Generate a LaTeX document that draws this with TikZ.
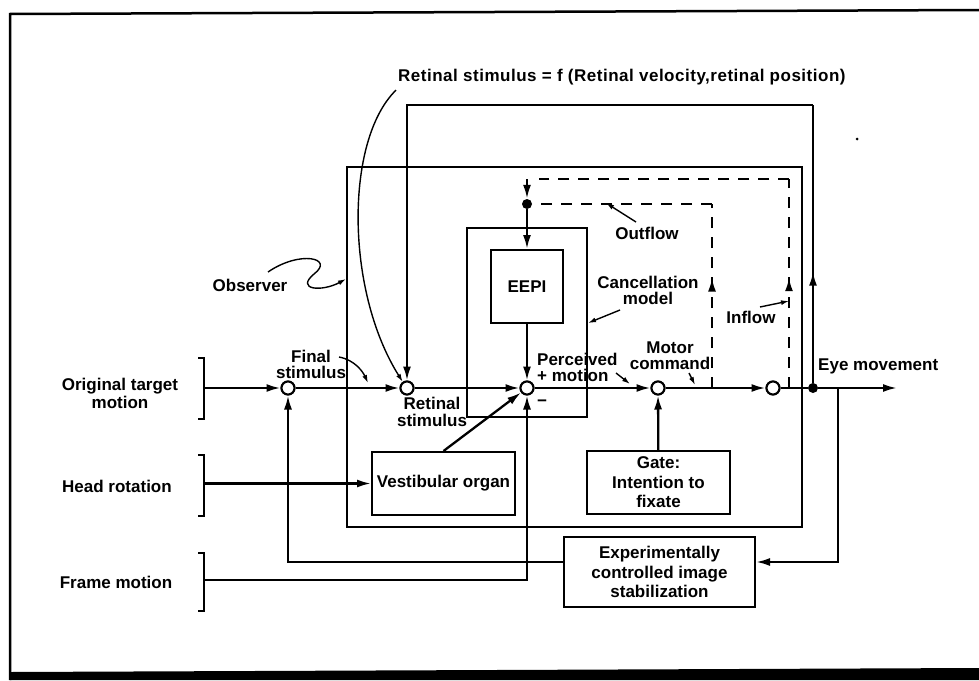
\documentclass[tikz,border=0pt]{standalone}
\usepackage{fontspec}
\setmainfont{Liberation Sans}
\usetikzlibrary{arrows.meta,decorations.markings}
\begin{document}
\begin{tikzpicture}[x=1pt,y=-1pt,
  lab/.style={font=\fontsize{17}{18}\selectfont\bfseries, inner sep=0pt, align=center},
  tight/.style={font=\fontsize{17}{16}\selectfont\bfseries},
  box/.style={draw, line width=2pt, inner sep=0pt, align=center, font=\fontsize{17}{19.5}\selectfont\bfseries},
  sum/.style={circle, draw, fill=white, line width=2pt, minimum size=13pt, inner sep=0pt},
  dotn/.style={circle, fill=black, minimum size=10pt, inner sep=0pt},
  ln/.style={line width=2.3pt},
  arr/.style={ln, -{Latex[length=14pt,width=8pt]}},
  dsh/.style={line width=2.5pt, dash pattern=on 11pt off 9pt},
  ann/.style={line width=1.4pt, -{Latex[length=8pt,width=5pt]}},
  midtip/.style={postaction={decorate}, decoration={markings, mark=at position #1 with {\arrow{Latex[length=14pt,width=8pt]}}}}
]
\useasboundingbox (0,0) rectangle (979,680);
% outer frame
\draw[line width=2.5pt] (10,680) -- (10,14) -- (979,10);
\fill (10,672) -- (979,668) -- (979,680) -- (10,680) -- cycle;
\fill (857,139) circle (1.5);

% boxes
\node[draw, line width=2pt, minimum width=455pt, minimum height=360pt, inner sep=0pt] (obs) at (574.5,347) {};
\node[draw, line width=2pt, minimum width=120pt, minimum height=189pt, inner sep=0pt] (canc) at (527,322.5) {};
\node[box, minimum width=72pt, minimum height=73pt] (eepi) at (527,286.5) {EEPI};
\node[box, minimum width=143pt, minimum height=63pt] (vest) at (443.5,483.5) {Vestibular organ};
\node[box, minimum width=143pt, minimum height=63pt] (gate) at (658.5,482.5) {Gate:\\Intention to\\fixate};
\node[box, minimum width=191pt, minimum height=70pt] (exp) at (659.5,572) {Experimentally\\controlled image\\stabilization};

% brackets
\draw[ln] (198,358) -- (204,358) -- (204,419) -- (198,419);
\draw[ln] (198,455) -- (204,455) -- (204,516) -- (198,516);
\draw[ln] (198,553) -- (204,553) -- (204,611) -- (198,611);
\coordinate (br1) at (204,388);
\coordinate (br2) at (204,483.5);
\coordinate (br3) at (204,580);

% summing points and dots
\node[sum] (c1) at (288,388) {};
\node[sum] (c2) at (407,388) {};
\node[sum] (c3) at (527,388) {};
\node[sum] (c4) at (658,388) {};
\node[sum] (c5) at (773,388) {};
\node[dotn] (d) at (813,388) {};
\node[dotn] (d2) at (527,204) {};
\coordinate (e) at (897,388);
\coordinate (b) at (838,388);
\coordinate (tfb) at (813,105);
\coordinate (tap1) at (712,388);
\coordinate (ti) at (712,204);
\coordinate (tap2) at (789,388);
\coordinate (to1) at (789,179);
\coordinate (to2) at (527,179);

% main line
\draw[arr] (br1) -- (c1);
\draw[arr] (c1) -- (c2);
\draw[arr] (c2) -- (c3);
\draw[arr] (c3) -- (c4);
\draw[arr] (c4) -- (c5);
\draw[ln] (c5) -- (d);
\draw[arr] (d) -- (e);

% inputs
\draw[arr] (br2) -- (vest.west);
\draw[arr] (br3) -| (c3);
\draw[arr] (vest.north) -- (c3);
\draw[arr] (gate) -- (c4);
\draw[arr] (eepi) -- (c3);
\draw[arr] (d2) -- (eepi);

% feedback
\draw[ln, midtip=0.4] (d) -- (tfb);
\draw[arr] (tfb) -| (c2);
\draw[arr] (b) |- ([yshift=10pt]exp.east);
\draw[arr] ([yshift=10pt]exp.west) -| (c1);

% dashed outflow / inflow
\draw[dsh, midtip=0.6] (tap1) -- (ti);
\draw[dsh] (ti) -- (d2);
\draw[dsh, midtip=0.53] (tap2) -- (to1);
\draw[dsh] (to1) -- ([xshift=12pt]to2);
\draw[arr] (to2) -- (d2);

% redraw sums on top
\node[sum] at (c1) {};
\node[sum] at (c2) {};
\node[sum] at (c3) {};
\node[sum] at (c4) {};
\node[sum] at (c5) {};

% labels
\node[lab, anchor=west, font=\fontsize{17}{18}\selectfont\bfseries\addfontfeature{LetterSpace=3}] (title) at (398,77) {Retinal stimulus = f (Retinal velocity,retinal position)};
\node[lab] (in1) at (120,393) {Original target\\motion};
\node[lab] (in2) at (117,486) {Head rotation};
\node[lab] (in3) at (116,582) {Frame motion};
\node[lab] (obsl) at (250,285) {Observer};
\node[lab, tight] (fin) at (311,364) {Final\\stimulus};
\node[lab, font=\fontsize{17}{17}\selectfont\bfseries] (ret) at (432,411.5) {Retinal\\stimulus};
\node[lab, tight, align=left, anchor=west] (perc) at (537,367) {Perceived\\+ motion};
\node[lab, tight] (cancl) at (648,290) {Cancellation\\model};
\node[lab] (outf) at (647,233) {Outflow};
\node[lab] (infl) at (751,317) {Inflow};
\node[lab, tight] (mot) at (670,356) {Motor\\command};
\node[lab, anchor=west] (eye) at (818,366) {Eye movement};
\node[lab] (minus) at (542,403) {−};

% annotation arrows
\draw[ann] ([xshift=-2pt,yshift=-5pt]title.south west) .. controls (345,140) and (345,290) .. (c2.125);
\draw[ann] (339,357) .. controls (355,360) and (363,372) .. (368,383);
\draw[ann] (268,272) .. controls (300,250) and (335,258) .. (314,274) .. controls (295,290) and (322,292) .. (obs.west |- 0,279);
\draw[ann] (636,222) -- (606,203);
\draw[ann] (620,310) -- (588,323);
\draw[ann] (760,307) -- (789,301);
\draw[ann] (616,373) -- (630,384);
\draw[ann] (689,373) -- (695,385);
\end{tikzpicture}
\end{document}
